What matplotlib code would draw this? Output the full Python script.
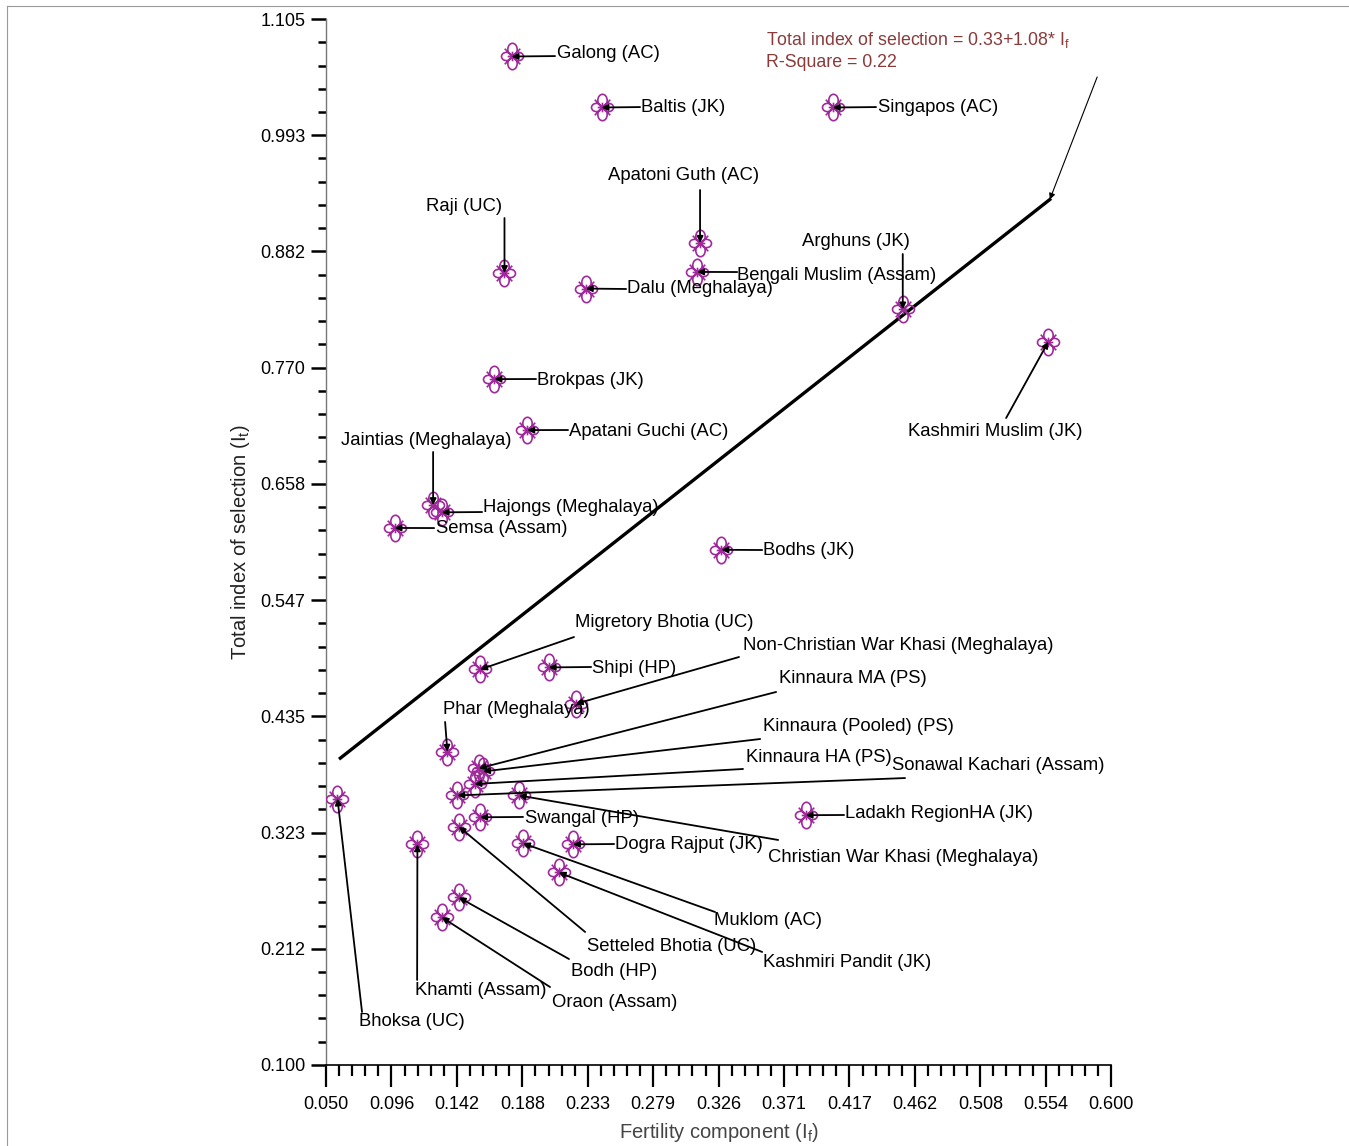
import numpy as np
import matplotlib
matplotlib.use('Agg')
import matplotlib.pyplot as plt
from matplotlib.path import Path
from matplotlib.transforms import Affine2D
from matplotlib.ticker import FixedLocator, AutoMinorLocator
from matplotlib.lines import Line2D

plt.rcParams['font.family'] = ['Liberation Sans', 'DejaVu Sans']

# populations, fertility component (If) and total index of selection (It)
names = ['Galong (AC)', 'Baltis (JK)', 'Singapos (AC)', 'Apatoni Guth (AC)', 'Raji (UC)',
         'Bengali Muslim (Assam)', 'Dalu (Meghalaya)', 'Arghuns (JK)', 'Kashmiri Muslim (JK)',
         'Brokpas (JK)', 'Apatani Guchi (AC)', 'Jaintias (Meghalaya)', 'Hajongs (Meghalaya)',
         'Semsa (Assam)', 'Bodhs (JK)', 'Migretory Bhotia (UC)', 'Shipi (HP)',
         'Non-Christian War Khasi (Meghalaya)', 'Phar (Meghalaya)', 'Kinnaura MA (PS)',
         'Kinnaura (Pooled) (PS)', 'Kinnaura HA (PS)', 'Sonawal Kachari (Assam)',
         'Christian War Khasi (Meghalaya)', 'Swangal (HP)', 'Ladakh RegionHA (JK)',
         'Dogra Rajput (JK)', 'Muklom (AC)', 'Setteled Bhotia (UC)', 'Kashmiri Pandit (JK)',
         'Khamti (Assam)', 'Bodh (HP)', 'Oraon (Assam)', 'Bhoksa (UC)']
fert = [0.180, 0.243, 0.405, 0.312, 0.175, 0.310, 0.232, 0.454, 0.556,
        0.168, 0.191, 0.125, 0.131, 0.098, 0.327, 0.158, 0.206,
        0.225, 0.135, 0.157, 0.160, 0.154, 0.142,
        0.185, 0.158, 0.386, 0.223, 0.188, 0.143, 0.213,
        0.114, 0.143, 0.131, 0.058]
total = [1.069, 1.020, 1.020, 0.890, 0.861, 0.862, 0.846, 0.826, 0.795,
         0.759, 0.710, 0.638, 0.631, 0.616, 0.595, 0.480, 0.482,
         0.447, 0.401, 0.385, 0.382, 0.370, 0.359,
         0.359, 0.338, 0.340, 0.312, 0.313, 0.329, 0.285,
         0.312, 0.261, 0.242, 0.356]

# regression: It = 0.33 + 1.08 * If
intercept, slope = 0.33, 1.08
fit_range = [0.060, 0.557]

x_tick_labels = ['0.050', '0.096', '0.142', '0.188', '0.233', '0.279', '0.326',
                 '0.371', '0.417', '0.462', '0.508', '0.554', '0.600']
y_tick_labels = ['0.100', '0.212', '0.323', '0.435', '0.547', '0.658', '0.770',
                 '0.882', '0.993', '1.105']

# label placement: text x, text y, ha, leader start x, leader start y
layout = {
    'Galong (AC)': (0.2118, 1.0714, 'left', 0.2104, 1.0694),
    'Baltis (JK)': (0.2707, 1.0204, 'left', 0.2700, 1.0204),
    'Singapos (AC)': (0.4367, 1.0204, 'left', 0.4353, 1.0204),
    'Apatoni Guth (AC)': (0.3001, 0.9551, 'center', 0.312, 0.9407),
    'Raji (UC)': (0.1467, 0.9244, 'center', 0.175, 0.9138),
    'Bengali Muslim (Assam)': (0.3380, 0.8590, 'left', 0.3380, 0.8619),
    'Dalu (Meghalaya)': (0.2609, 0.8456, 'left', 0.2602, 0.8456),
    'Arghuns (JK)': (0.4213, 0.8917, 'center', 0.454, 0.8792),
    'Kashmiri Muslim (JK)': (0.5187, 0.7091, 'center', 0.5264, 0.7216),
    'Brokpas (JK)': (0.1978, 0.7572, 'left', 0.1971, 0.7591),
    'Apatani Guchi (AC)': (0.2202, 0.7091, 'left', 0.2195, 0.7101),
    'Jaintias (Meghalaya)': (0.1201, 0.7005, 'center', 0.125, 0.6890),
    'Hajongs (Meghalaya)': (0.1600, 0.6352, 'left', 0.1593, 0.6313),
    'Semsa (Assam)': (0.1271, 0.6150, 'left', 0.1257, 0.6159),
    'Bodhs (JK)': (0.3562, 0.5948, 'left', 0.3555, 0.5948),
    'Migretory Bhotia (UC)': (0.2244, 0.5256, 'left', 0.2237, 0.5112),
    'Shipi (HP)': (0.2364, 0.4814, 'left', 0.2357, 0.4824),
    'Non-Christian War Khasi (Meghalaya)': (0.3421, 0.5035, 'left', 0.3393, 0.4920),
    'Phar (Meghalaya)': (0.1320, 0.4420, 'left', 0.1334, 0.4296),
    'Kinnaura MA (PS)': (0.3674, 0.4709, 'left', 0.3653, 0.4584),
    'Kinnaura (Pooled) (PS)': (0.3562, 0.4257, 'left', 0.3541, 0.4132),
    'Kinnaura HA (PS)': (0.3443, 0.3959, 'left', 0.3421, 0.3844),
    'Sonawal Kachari (Assam)': (0.4465, 0.3873, 'left', 0.4556, 0.3757),
    'Christian War Khasi (Meghalaya)': (0.3597, 0.2989, 'left', 0.3667, 0.3162),
    'Swangal (HP)': (0.1894, 0.3373, 'left', 0.1880, 0.3383),
    'Ladakh RegionHA (JK)': (0.4136, 0.3421, 'left', 0.4129, 0.3402),
    'Dogra Rajput (JK)': (0.2525, 0.3114, 'left', 0.2518, 0.3123),
    'Muklom (AC)': (0.3218, 0.2384, 'left', 0.3225, 0.2470),
    'Setteled Bhotia (UC)': (0.2329, 0.2143, 'left', 0.2315, 0.2278),
    'Kashmiri Pandit (JK)': (0.3562, 0.1980, 'left', 0.3555, 0.2086),
    'Khamti (Assam)': (0.1124, 0.1711, 'left', 0.1138, 0.1817),
    'Bodh (HP)': (0.2216, 0.1894, 'left', 0.2202, 0.2018),
    'Oraon (Assam)': (0.2083, 0.1596, 'left', 0.2069, 0.1749),
    'Bhoksa (UC)': (0.0731, 0.1413, 'left', 0.0752, 0.1509),
}


def flower_marker():
    # clover-like symbol: four loops plus diagonal spokes
    parts = []
    for ang, (w, h, off) in zip([0, 90, 180, 270],
                               [(0.34, 0.44, 0.52), (0.30, 0.36, 0.44),
                                (0.34, 0.44, 0.52), (0.30, 0.36, 0.44)]):
        petal = Affine2D().scale(w, h).translate(0, off).rotate_deg(ang)
        parts.append(petal.transform_path(Path.unit_circle()))
    for ang in [45, 135, 0, 90]:
        r = 0.80 if ang in (45, 135) else 0.35
        spoke = Affine2D().rotate_deg(ang).transform_path(
            Path([(-r, 0), (r, 0)], [Path.MOVETO, Path.LINETO]))
        parts.append(spoke)
    return Path.make_compound_path(*parts)


fig = plt.figure(figsize=(13.49, 11.46), dpi=100)
ax = fig.add_axes([0.2417, 0.0707, 0.582, 0.9127])

ax.plot(fert, total, linestyle='none', marker=flower_marker(), markersize=19,
        markerfacecolor='none', markeredgecolor='#a02a9c', markeredgewidth=1.2, zorder=3)

fx = np.array(fit_range)
ax.plot(fx, intercept + slope * fx, color='black', lw=2.4, zorder=2)
ax.annotate('', xy=(fx[1], intercept + slope * fx[1]), xytext=(0.5902, 1.0493),
            arrowprops=dict(arrowstyle='-|>', color='black', lw=0.8,
                            mutation_scale=9, shrinkA=0, shrinkB=0))

for name, x, y in zip(names, fert, total):
    tx, ty, ha, lx, ly = layout[name]
    ax.annotate('', xy=(x, y), xytext=(lx, ly),
                arrowprops=dict(arrowstyle='-|>', color='black', lw=1.3,
                                mutation_scale=9, shrinkA=0, shrinkB=0), zorder=4)
    ax.text(tx, ty, name, ha=ha, va='center', fontsize=13.3, color='black', zorder=5)

ax.text(0.3583, 1.0848, 'Total index of selection = 0.33+1.08* $\\mathregular{I_f}$',
        fontsize=12.8, color='#8b3a3a', va='center')
ax.text(0.3583, 1.0637, 'R-Square = 0.22', fontsize=12.8, color='#8b3a3a', va='center')

ax.set_xlim(0.05, 0.6)
ax.set_ylim(0.1, 1.105)
ax.xaxis.set_major_locator(FixedLocator(np.linspace(0.05, 0.6, len(x_tick_labels))))
ax.yaxis.set_major_locator(FixedLocator(np.linspace(0.1, 1.105, len(y_tick_labels))))
ax.set_xticklabels(x_tick_labels)
ax.set_yticklabels(y_tick_labels)
ax.xaxis.set_minor_locator(AutoMinorLocator(5))
ax.yaxis.set_minor_locator(AutoMinorLocator(5))
ax.tick_params(axis='x', which='major', length=16, width=1.6, pad=6, labelsize=13)
ax.tick_params(axis='x', which='minor', length=8, width=1.6)
ax.tick_params(axis='y', which='major', length=11, width=1.8, pad=4, labelsize=13)
ax.tick_params(axis='y', which='minor', length=6, width=1.8)

for side in ['top', 'right']:
    ax.spines[side].set_visible(False)
ax.spines['left'].set_color('#777777')
ax.spines['left'].set_linewidth(1.0)
ax.spines['bottom'].set_linewidth(1.2)

ax.set_xlabel('Fertility component ($\\mathregular{I_f}$)', fontsize=14.5, color='#444444', labelpad=6)
ax.set_ylabel('Total index of selection ($\\mathregular{I_t}$)', fontsize=14.5, color='#222222', labelpad=6)

fig.add_artist(Line2D([7 / 1349, 1], [1 - 6 / 1146, 1 - 6 / 1146], color='#999999', lw=0.8))
fig.add_artist(Line2D([7 / 1349, 7 / 1349], [0, 1 - 6 / 1146], color='#999999', lw=0.8))

fig.savefig('out.png', dpi=100)
